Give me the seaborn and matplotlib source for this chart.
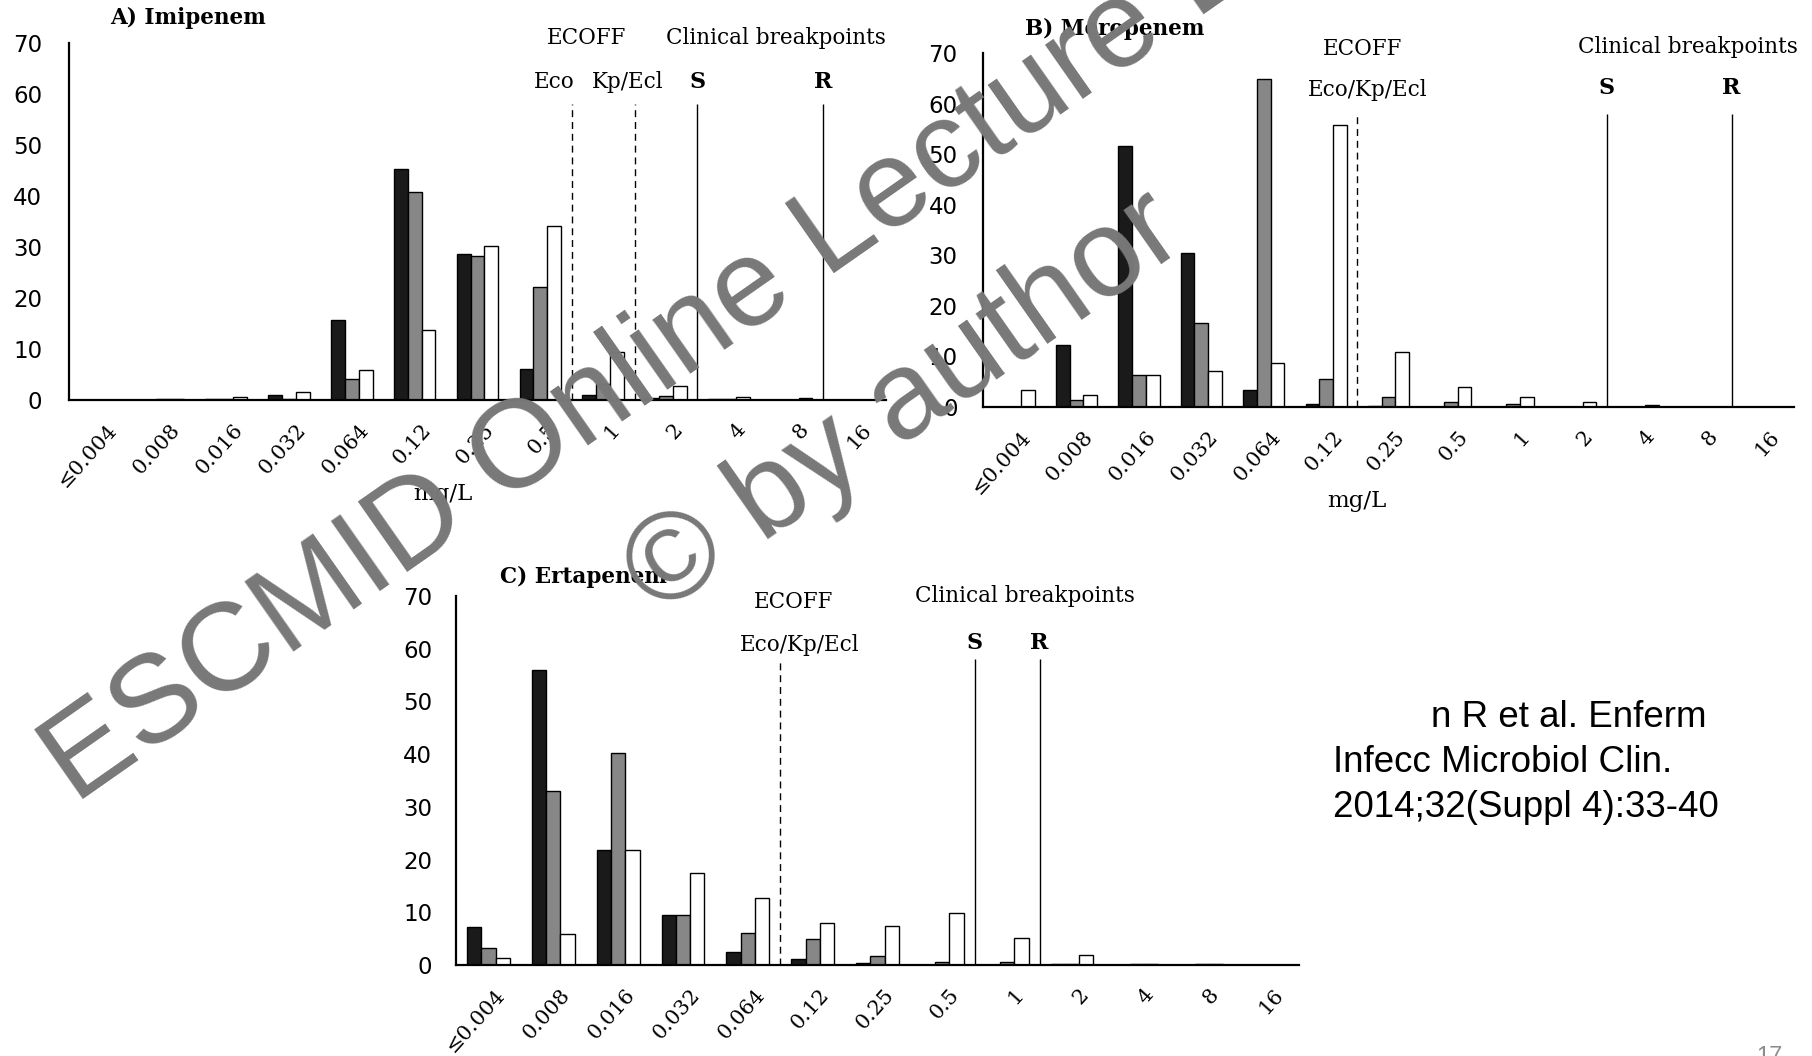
import numpy as np
import pandas as pd
import matplotlib
matplotlib.use("Agg")
import matplotlib.pyplot as plt
import seaborn as sns
from matplotlib.transforms import ScaledTranslation

# ---------------- data ----------------
mic_labels = ['≤0.004', '0.008', '0.016', '0.032', '0.064', '0.12', '0.25',
              '0.5', '1', '2', '4', '8', '16']
species = ['Eco', 'Kp', 'Ecl']
species_colors = ['#1a1a1a', '#878787', '#ffffff']

imipenem_eco = [0, 0, 0.1, 1.0, 15.6, 45.3, 28.6, 6.0, 1.0, 0.4, 0.1, 0, 0]
imipenem_kp = [0, 0.1, 0.1, 0.1, 4.1, 40.8, 28.2, 22.1, 3.1, 0.7, 0.1, 0, 0]
imipenem_ecl = [0, 0.2, 0.6, 1.5, 5.8, 13.7, 30.2, 34.1, 9.5, 2.8, 0.6, 0.3, 0]

meropenem_eco = [0, 12.2, 51.6, 30.4, 3.3, 0.5, 0.2, 0, 0, 0, 0, 0, 0]
meropenem_kp = [0, 1.4, 6.4, 16.6, 64.9, 5.5, 1.9, 0.9, 0.6, 0, 0, 0, 0]
meropenem_ecl = [3.3, 2.4, 6.4, 7.2, 8.7, 55.7, 10.8, 3.9, 1.9, 0.9, 0.4, 0, 0]

ertapenem_eco = [7.3, 56.0, 21.8, 9.5, 2.5, 1.1, 0.3, 0, 0, 0.2, 0, 0, 0]
ertapenem_kp = [3.3, 33.0, 40.2, 9.5, 6.1, 4.9, 1.7, 0.5, 0.5, 0.2, 0.1, 0.1, 0]
ertapenem_ecl = [1.4, 5.8, 21.8, 17.5, 12.8, 8.0, 7.4, 9.8, 5.2, 1.9, 0.1, 0.1, 0]

# breakpoints: line drawn on the right edge of the named MIC category
imipenem_ecoff = ['0.5', '1']
meropenem_ecoff = ['0.12']
ertapenem_ecoff = ['0.064']
imipenem_clinical = {'S': '2', 'R': '8'}
meropenem_clinical = {'S': '2', 'R': '8'}
ertapenem_clinical = {'S': '0.5', 'R': '1'}

# ---------------- style ----------------
sns.set_style("white")
plt.rcParams['font.family'] = ['DejaVu Serif', 'DejaVu Sans']
plt.rcParams['text.color'] = 'black'
plt.rcParams['xtick.color'] = 'black'
plt.rcParams['ytick.color'] = 'black'
plt.rcParams['xtick.labelcolor'] = 'black'
plt.rcParams['ytick.labelcolor'] = 'black'
SERIF = 'DejaVu Serif'

W, H = 1812, 1056
fig = plt.figure(figsize=(W / 100, H / 100), dpi=100)
fig.patch.set_facecolor('white')


def px_axes(x0, x1, y_zero, y_top):
    return fig.add_axes([x0 / W, 1 - y_zero / H, (x1 - x0) / W, (y_zero - y_top) / H])


def boundary(cat):
    return mic_labels.index(cat) + 0.5


def draw_panel(ax, eco, kp, ecl, ecoff, clinical, ypad):
    df = pd.DataFrame({
        'mic': mic_labels * 3,
        'pct': list(eco) + list(kp) + list(ecl),
        'species': np.repeat(species, len(mic_labels)),
    })
    sns.barplot(data=df, x='mic', y='pct', hue='species', order=mic_labels,
                hue_order=species, palette=species_colors, saturation=1,
                width=0.66, edgecolor='black', linewidth=1.0, errorbar=None,
                legend=False, ax=ax)
    ax.set_xlim(-0.5, len(mic_labels) - 0.5)
    ax.set_ylim(0, 70)
    ax.set_xlabel('')
    ax.set_ylabel('')
    ax.set_facecolor('none')
    sns.despine(ax=ax)
    for s in ('left', 'bottom'):
        ax.spines[s].set_linewidth(1.6)
        ax.spines[s].set_color('black')
    ax.set_yticks(range(0, 71, 10))
    ax.set_xticks(range(len(mic_labels)))
    ax.set_xticklabels(mic_labels, rotation=48, ha='right', va='center',
                       rotation_mode='anchor', fontsize=15, family=SERIF)
    ax.set_xticks(np.arange(-0.5, len(mic_labels), 1), minor=True)
    ax.tick_params(axis='x', which='major', length=0, pad=19)
    ax.tick_params(axis='x', which='minor', length=7, width=1.5,
                   direction='out', color='black')
    ax.tick_params(axis='y', length=7.2, width=1.5, direction='out',
                   color='black', pad=ypad, labelsize=16.5)
    for lab in ax.get_yticklabels():
        lab.set_family('DejaVu Sans')
    off = ScaledTranslation(13.5 / 100, 0, fig.dpi_scale_trans)
    for lab in ax.get_xticklabels():
        lab.set_transform(lab.get_transform() + off)
    # reference lines
    for c in ecoff:
        ax.vlines(boundary(c), 0, 58, colors='black', linewidth=1.0,
                  linestyles=(0, (5, 3.5)), zorder=4)
    for k, c in clinical.items():
        ax.vlines(boundary(c), 0, 58, colors='black', linewidth=1.0, zorder=4)


def label(ax, x, y, s, bold=False, size=15.5, ha='center'):
    ax.text(x, y, s, ha=ha, va='center', fontsize=size, family=SERIF,
            fontweight='bold' if bold else 'normal', clip_on=False, zorder=5)


# Panel A
axA = px_axes(69, 886, 400, 43)
draw_panel(axA, imipenem_eco, imipenem_kp, imipenem_ecl, imipenem_ecoff,
           imipenem_clinical, ypad=12)
label(axA, 0.15, 74.9, 'A) Imipenem', bold=True, size=15.5, ha='left')
label(axA, 7.74, 71.0, 'ECOFF')
label(axA, 10.75, 71.0, 'Clinical breakpoints')
label(axA, 7.22, 62.3, 'Eco')
label(axA, 8.39, 62.3, 'Kp/Ecl')
label(axA, boundary(imipenem_clinical['S']), 62.3, 'S', bold=True, size=16)
label(axA, boundary(imipenem_clinical['R']), 62.3, 'R', bold=True, size=16)
label(axA, 5.45, -18.5, 'mg/L', size=16.5)

# Panel B
axB = px_axes(983, 1794, 407, 53)
draw_panel(axB, meropenem_eco, meropenem_kp, meropenem_ecl, meropenem_ecoff,
           meropenem_clinical, ypad=11)
label(axB, 0.17, 74.7, 'B) Meropenem', bold=True, size=15.5, ha='left')
label(axB, 5.58, 70.7, 'ECOFF')
label(axB, 5.67, 62.6, 'Eco/Kp/Ecl')
label(axB, 10.80, 71.1, 'Clinical breakpoints')
label(axB, boundary(meropenem_clinical['S']), 63.0, 'S', bold=True, size=16)
label(axB, boundary(meropenem_clinical['R']), 63.0, 'R', bold=True, size=16)
label(axB, 5.49, -18.5, 'mg/L', size=16.5)

# Panel C
axC = px_axes(456, 1299, 965, 596)
draw_panel(axC, ertapenem_eco, ertapenem_kp, ertapenem_ecl, ertapenem_ecoff,
           ertapenem_clinical, ypad=10)
label(axC, 0.18, 73.6, 'C) Ertapenem', bold=True, size=15.5, ha='left')
label(axC, 4.71, 68.9, 'ECOFF')
label(axC, 4.80, 60.7, 'Eco/Kp/Ecl')
label(axC, 8.27, 70.0, 'Clinical breakpoints')
label(axC, boundary(ertapenem_clinical['S']), 61.0, 'S', bold=True, size=16)
label(axC, boundary(ertapenem_clinical['R']), 61.0, 'R', bold=True, size=16)

# citation
SANS = 'Liberation Sans'
fig.text(1431 / W, 1 - 727 / H, 'n R et al. Enferm', fontsize=26.5,
         family=SANS, ha='left', va='baseline', color='black')
fig.text(1333 / W, 1 - 772 / H, 'Infecc Microbiol Clin.', fontsize=26.5,
         family=SANS, ha='left', va='baseline', color='black')
fig.text(1333 / W, 1 - 817 / H, '2014;32(Suppl 4):33-40', fontsize=26.5,
         family=SANS, ha='left', va='baseline', color='black')
fig.text(1756 / W, 1 - 1046 / H, '17', fontsize=17, family=SANS,
         color='#8c8c8c', ha='left', va='top')

# watermark
fig.text(75 / W, 1 - 805 / H, 'ESCMID Online Lecture Library', fontsize=90,
         family=SANS, color='#787878', rotation=35, rotation_mode='anchor',
         ha='left', va='baseline', zorder=10)
fig.text(905 / W, 1 - 405 / H, '© by author', fontsize=90, family=SANS,
         color='#787878', rotation=35, rotation_mode='anchor',
         ha='center', va='center', zorder=10)

fig.savefig('out.png', dpi=100, facecolor='white')
